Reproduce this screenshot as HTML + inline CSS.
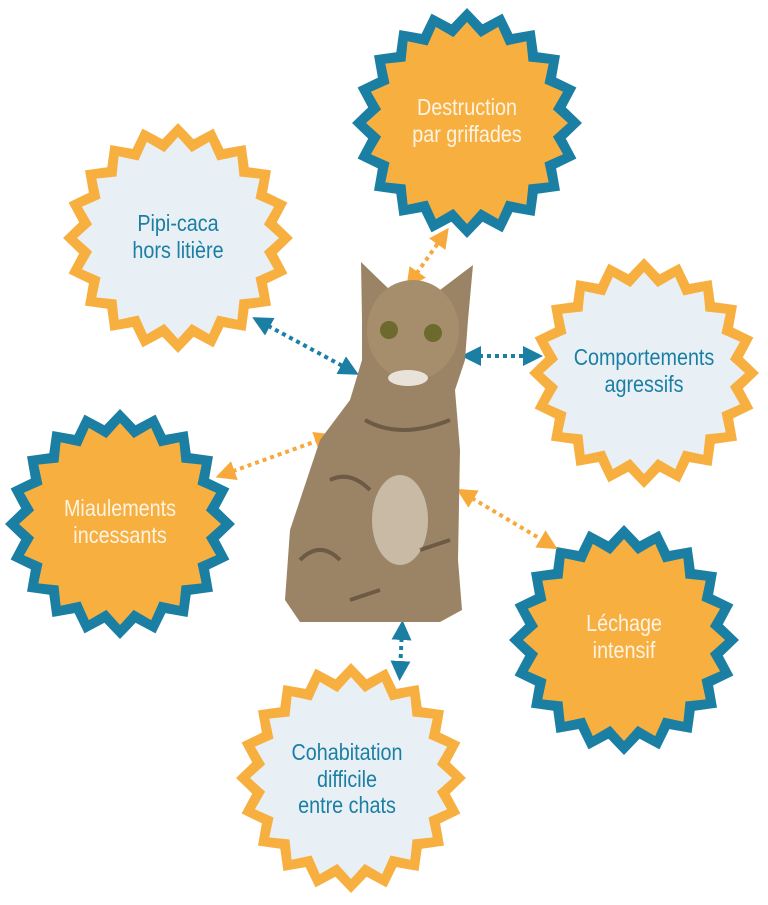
<!DOCTYPE html>
<html><head><meta charset="utf-8"><style>
html,body{margin:0;padding:0;background:#fff;}
svg text{font-family:"Liberation Sans Narrow","Liberation Sans",sans-serif;font-size:23px;text-anchor:middle;}
</style></head><body>
<svg id="s" width="768" height="900" viewBox="0 0 768 900" xmlns="http://www.w3.org/2000/svg">
<defs>
<marker id="ao" viewBox="0 0 10 10" refX="5" refY="5" markerWidth="5" markerHeight="5" orient="auto-start-reverse"><path d="M0,0L10,5L0,10Z" fill="#f7a93b"/></marker>
<marker id="ab" viewBox="0 0 10 10" refX="5" refY="5" markerWidth="5" markerHeight="5" orient="auto-start-reverse"><path d="M0,0L10,5L0,10Z" fill="#1b7fa3"/></marker>
</defs>
<g id="stars"></g>
<g stroke-width="4" stroke-dasharray="4 4" fill="none">
<line x1="412" y1="280" x2="443" y2="236" stroke="#f7a93b" marker-start="url(#ao)" marker-end="url(#ao)"/>
<line x1="261" y1="322" x2="350" y2="370" stroke="#1b7fa3" marker-start="url(#ab)" marker-end="url(#ab)"/>
<line x1="471" y1="356" x2="533" y2="356" stroke="#1b7fa3" marker-start="url(#ab)" marker-end="url(#ab)"/>
<line x1="225" y1="474" x2="325" y2="438" stroke="#f7a93b" marker-start="url(#ao)" marker-end="url(#ao)"/>
<line x1="465" y1="494" x2="549" y2="544" stroke="#f7a93b" marker-start="url(#ao)" marker-end="url(#ao)"/>
<line x1="402" y1="630" x2="400" y2="671" stroke="#1b7fa3" marker-start="url(#ab)" marker-end="url(#ab)"/>
</g>
<path d="M361,262 L392,292 L440,290 L473,265 L468,320 L465,360 L455,390 L460,450 L458,560 L462,610 L440,622 L300,622 L285,600 L290,530 L320,440 L350,400 L362,360 L362,320 Z" fill="#9b8466"/>
<ellipse cx="413" cy="330" rx="46" ry="50" fill="#a68d6c"/>
<ellipse cx="389" cy="330" rx="9" ry="9" fill="#6d6a2e"/><ellipse cx="433" cy="333" rx="9" ry="9" fill="#6d6a2e"/>
<ellipse cx="408" cy="378" rx="20" ry="8" fill="#e8e2d8"/>
<ellipse cx="400" cy="520" rx="28" ry="45" fill="#c9baa5"/>
<g stroke="#4e3f2e" stroke-width="4" fill="none" opacity=".6">
<path d="M365,420 Q400,440 450,420"/><path d="M330,480 Q350,470 370,490"/><path d="M300,560 Q320,540 340,560"/><path d="M420,550 L450,540"/><path d="M350,600 L380,590"/>
</g>
<g id="t">
<text x="467" y="115" fill="#fdf3e3">Destruction</text><text x="467" y="142" fill="#fdf3e3">par griffades</text>
<text x="178" y="231" fill="#1b7fa3">Pipi-caca</text><text x="178" y="258" fill="#1b7fa3">hors litière</text>
<text x="644" y="365" fill="#1b7fa3">Comportements</text><text x="644" y="392" fill="#1b7fa3">agressifs</text>
<text x="120" y="516" fill="#fdf3e3">Miaulements</text><text x="120" y="543" fill="#fdf3e3">incessants</text>
<text x="624" y="631" fill="#fdf3e3">Léchage</text><text x="624" y="658" fill="#fdf3e3">intensif</text>
<text x="347" y="760" fill="#1b7fa3">Cohabitation</text><text x="347" y="787" fill="#1b7fa3">difficile</text><text x="347" y="813" fill="#1b7fa3">entre chats</text>
</g>
</svg>
<script>
var stars=[[467,123,"#f7b040","#1b7fa3"],[178,238,"#e8f0f5","#f7b040"],[644,373,"#e8f0f5","#f7b040"],[120,524,"#f7b040","#1b7fa3"],[624,640,"#f7b040","#1b7fa3"],[351,778,"#e8f0f5","#f7b040"]];
var g=document.getElementById("stars"),h="";
stars.forEach(function(s){
 function pts(R,r){var p=[];for(var i=0;i<40;i++){var a=-Math.PI/2+i*Math.PI/20,rr=i%2?r:R;p.push((s[0]+rr*Math.cos(a)).toFixed(1)+","+(s[1]+rr*Math.sin(a)).toFixed(1));}return p.join(" ");}
 h+='<polygon points="'+pts(115,100)+'" fill="'+s[3]+'"/>';
 h+='<polygon points="'+pts(101,87)+'" fill="'+s[2]+'"/>';
});
g.innerHTML=h;
var ts=document.querySelectorAll("#t text");
for(var i=0;i<ts.length;i++){var t=ts[i],x=t.getAttribute("x"),y=t.getAttribute("y");t.setAttribute("x",0);t.setAttribute("y",0);t.setAttribute("transform","translate("+x+","+y+") scale(0.86,1)");}
</script>
</body></html>
